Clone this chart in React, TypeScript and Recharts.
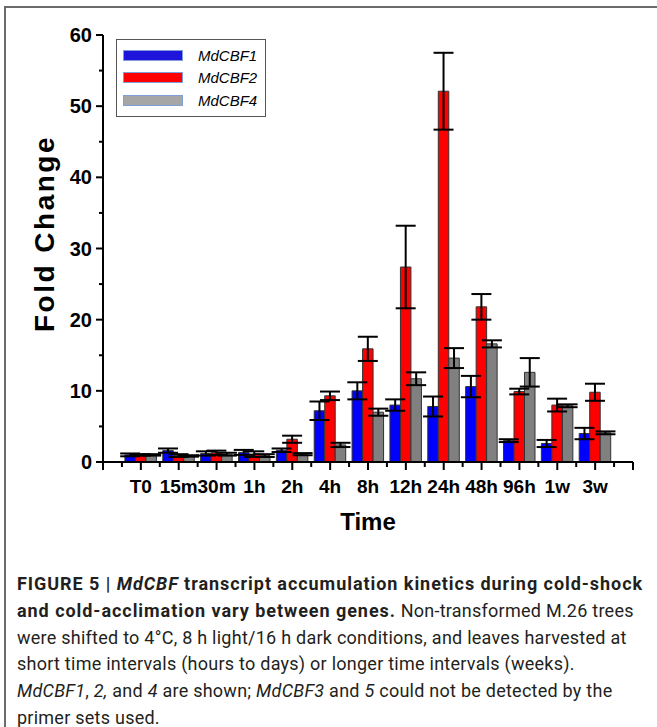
import React from 'react';
import { BarChart, Bar, XAxis, YAxis, ErrorBar, Legend } from 'recharts';

const categories = ['T0', '15m', '30m', '1h', '2h', '4h', '8h', '12h', '24h', '48h', '96h', '1w', '3w'];
const cbf1 = [1.0, 1.6, 1.2, 1.35, 1.65, 7.2, 10.0, 8.0, 7.8, 10.6, 3.0, 2.6, 4.0];
const cbf1Err = [0.2, 0.3, 0.3, 0.35, 0.25, 1.3, 1.2, 0.8, 1.4, 1.5, 0.2, 0.5, 0.8];
const cbf2 = [1.0, 0.9, 1.3, 1.1, 3.2, 9.3, 15.9, 27.4, 52.1, 21.8, 9.9, 8.0, 9.8];
const cbf2Err = [0.1, 0.2, 0.3, 0.4, 0.5, 0.6, 1.7, 5.8, 5.4, 1.8, 0.4, 0.9, 1.2];
const cbf4 = [1.0, 0.85, 1.1, 0.9, 1.1, 2.4, 7.0, 11.7, 14.6, 16.6, 12.6, 7.9, 4.1];
const cbf4Err = [0.1, 0.1, 0.2, 0.2, 0.15, 0.3, 0.5, 0.9, 1.4, 0.5, 2.0, 0.2, 0.2];
const yTicks = [0, 5, 10, 15, 20, 25, 30, 35, 40, 45, 50, 55, 60];

const series = [
  { key: 'cbf1', err: 'cbf1Err', name: 'MdCBF1', color: '#0000ff', legend: '#1e14dc' },
  { key: 'cbf2', err: 'cbf2Err', name: 'MdCBF2', color: '#ff0000', legend: '#ff0000' },
  { key: 'cbf4', err: 'cbf4Err', name: 'MdCBF4', color: '#808080', legend: '#a6a6a6' },
];

const data = categories.map((time, i) => ({
  time,
  cbf1: cbf1[i],
  cbf1Err: cbf1Err[i],
  cbf2: cbf2[i],
  cbf2Err: cbf2Err[i],
  cbf4: cbf4[i],
  cbf4Err: cbf4Err[i],
}));

const W = 657;
const H = 540;
const M = { top: 35, right: 24, left: 0, bottom: 0 };
const Y_W = 103;
const X_H = 78;
const PLOT_W = W - M.left - M.right - Y_W;
const BAND = PLOT_W / (categories.length + 1);
const FONT = '"Liberation Sans", Arial, sans-serif';

const YTick = (props: any) => {
  const { x, y, payload } = props;
  const major = payload.value % 10 === 0;
  const len = major ? 7 : 4;
  return (
    <g>
      <line x1={x - len} x2={x} y1={y} y2={y} stroke="#000" strokeWidth={2} />
      {major && (
        <text x={x - 11} y={y} dy={7} textAnchor="end" fontFamily={FONT} fontWeight="bold" fontSize={20} fill="#000">
          {payload.value}
        </text>
      )}
    </g>
  );
};

const XTick = (props: any) => {
  const { x, y, payload, index } = props;
  const last = index === categories.length - 1;
  return (
    <g>
      <line x1={x} x2={x} y1={y} y2={y + 8} stroke="#000" strokeWidth={2} />
      <line x1={x - BAND / 2} x2={x - BAND / 2} y1={y} y2={y + 5} stroke="#000" strokeWidth={2} />
      {index === 0 && <line x1={x - BAND} x2={x - BAND} y1={y} y2={y + 8} stroke="#000" strokeWidth={2} />}
      {last && <line x1={x + BAND / 2} x2={x + BAND / 2} y1={y} y2={y + 5} stroke="#000" strokeWidth={2} />}
      {last && <line x1={x + BAND} x2={x + BAND} y1={y} y2={y + 8} stroke="#000" strokeWidth={2} />}
      <text x={x} y={y + 31} textAnchor="middle" fontFamily={FONT} fontWeight="bold" fontSize={19} fill="#000">
        {payload.value}
      </text>
    </g>
  );
};

const renderLegend = () => (
  <div
    style={{
      border: '1px solid #555',
      background: '#fff',
      padding: '4px 0 4px 6px',
      width: 150,
      boxSizing: 'border-box',
    }}
  >
    {series.map((s) => (
      <div key={s.key} style={{ display: 'flex', alignItems: 'center', height: 22.5 }}>
        <div
          style={{
            width: 60,
            height: 11,
            background: s.legend,
            border: '1px solid #7f9fdc',
            boxSizing: 'border-box',
          }}
        />
        <span
          style={{
            marginLeft: 15,
            fontFamily: FONT,
            fontStyle: 'italic',
            fontSize: 15,
            color: '#000',
          }}
        >
          {s.name}
        </span>
      </div>
    ))}
  </div>
);

const bold = { letterSpacing: '0.95px' };

const App: React.FC = () => {
  return (
    <div
      style={{
        position: 'absolute',
        left: 0,
        top: 0,
        width: W,
        height: 727,
        overflow: 'hidden',
        background: '#fff',
      }}
    >
      <div
        style={{
          position: 'absolute',
          left: 4,
          top: 6,
          width: 800,
          height: 900,
          borderTop: '2px solid #6b6b6b',
          borderLeft: '2px solid #6b6b6b',
        }}
      />
      <div style={{ position: 'absolute', left: 0, top: 0 }}>
        <BarChart width={W} height={H} data={data} margin={M} barSize={10.5} barGap={0}>
          <XAxis
            dataKey="time"
            height={X_H}
            interval={0}
            padding={{ left: BAND / 2, right: BAND / 2 }}
            axisLine={{ stroke: '#000', strokeWidth: 2 }}
            tickLine={false}
            tickSize={0}
            tickMargin={0}
            tick={<XTick />}
            label={{
              value: 'Time',
              position: 'insideBottom',
              offset: 10,
              fontFamily: FONT,
              fontWeight: 'bold',
              fontSize: 24,
              fill: '#000',
            }}
          />
          <YAxis
            width={Y_W}
            domain={[0, 60]}
            ticks={yTicks}
            interval={0}
            axisLine={{ stroke: '#000', strokeWidth: 2 }}
            tickLine={false}
            tickSize={0}
            tickMargin={0}
            tick={<YTick />}
            label={{
              value: 'Fold Change',
              angle: -90,
              position: 'insideLeft',
              offset: 44,
              dy: -15,
              fontFamily: FONT,
              fontWeight: 'bold',
              fontSize: 28,
              fill: '#000',
              style: { textAnchor: 'middle', letterSpacing: '2.5px' },
            }}
          />
          <Legend
            layout="vertical"
            align="center"
            verticalAlign="middle"
            content={renderLegend}
            wrapperStyle={{ position: 'absolute', left: 116, top: 39, width: 'auto', height: 'auto' }}
          />
          {series.map((s) => (
            <Bar
              key={s.key}
              dataKey={s.key}
              name={s.name}
              fill={s.color}
              stroke="#333"
              strokeWidth={1}
              isAnimationActive={false}
            >
              <ErrorBar dataKey={s.err} width={10} stroke="#000" strokeWidth={2} direction="y" />
            </Bar>
          ))}
        </BarChart>
      </div>
      <div
        style={{
          position: 'absolute',
          left: 17,
          top: 571,
          fontFamily: 'Roboto, "Liberation Sans", sans-serif',
          fontSize: 18,
          lineHeight: '26.8px',
          letterSpacing: '0.25px',
          color: '#231f20',
          whiteSpace: 'nowrap',
        }}
      >
        <div>
          <b style={bold}>FIGURE 5 | <i>MdCBF</i> transcript accumulation kinetics during cold-shock</b>
        </div>
        <div>
          <b style={bold}>and cold-acclimation vary between genes.</b> Non-transformed M.26 trees
        </div>
        <div>were shifted to 4°C, 8 h light/16 h dark conditions, and leaves harvested at</div>
        <div>short time intervals (hours to days) or longer time intervals (weeks).</div>
        <div>
          <i>MdCBF1</i>, <i>2,</i> and <i>4</i> are shown; <i>MdCBF3</i> and <i>5</i> could not be detected by the
        </div>
        <div>primer sets used.</div>
      </div>
    </div>
  );
};

export default App;
